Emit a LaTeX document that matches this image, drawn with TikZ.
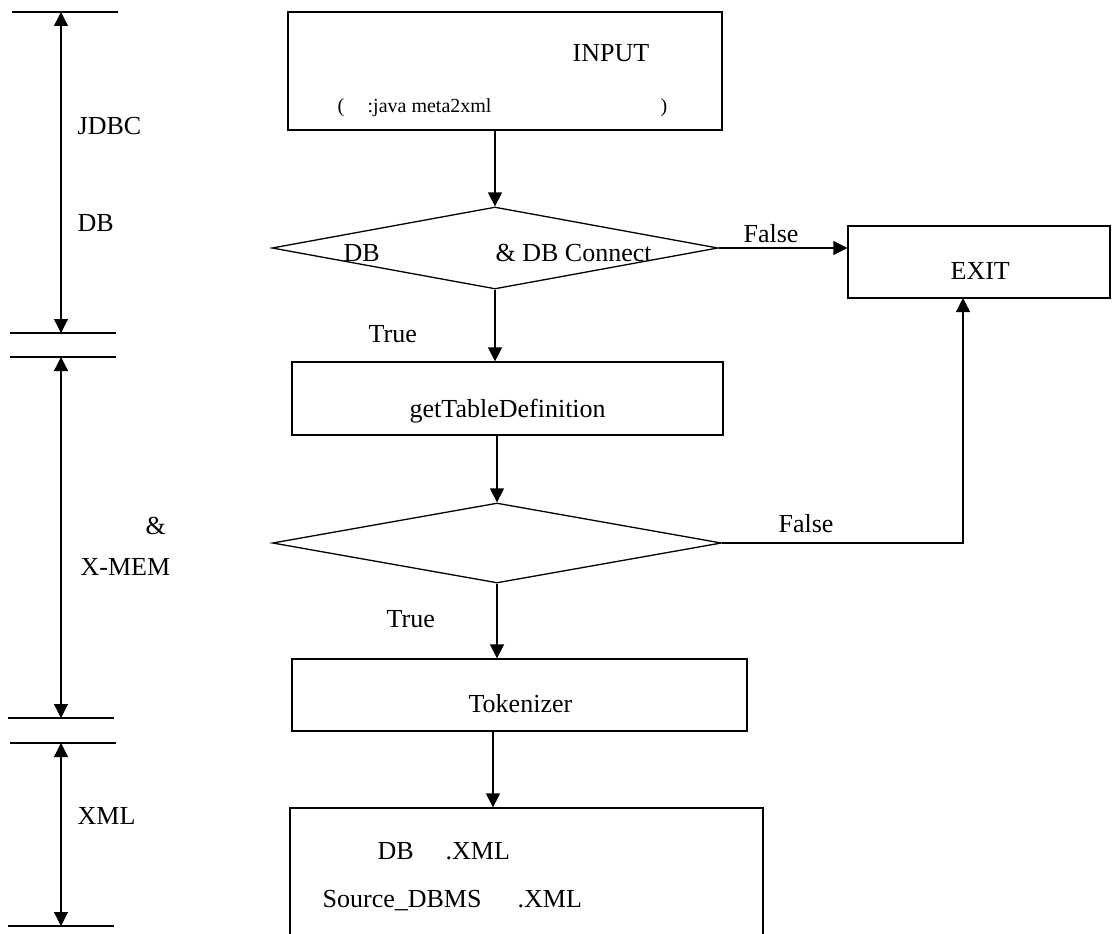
\documentclass[tikz,border=0pt]{standalone}
\usepackage{fontspec}
\setmainfont{Liberation Serif}
\usetikzlibrary{arrows.meta,shapes.geometric}
\begin{document}
\begin{tikzpicture}[x=1pt,y=-1pt,
  line width=1.3pt,
  >={Triangle[length=14pt,width=14pt]},
  lbl/.style={font=\fontsize{26}{30}\selectfont, inner sep=0pt, anchor=base west},
  small/.style={font=\fontsize{20}{24}\selectfont, inner sep=0pt, anchor=base west},
  box/.style={draw, rectangle, inner sep=0pt},
  decision/.style={draw, diamond, inner sep=0pt},
  tick/.style={line width=1.3pt}]
\useasboundingbox (0,0) rectangle (1112,934);
\clip (0,0) rectangle (1112,934);

% ---- flow boxes ----
\node[box, minimum width=434pt, minimum height=118pt] (input) at (505,71) {};
\node[decision, minimum width=446pt, minimum height=82pt, shape aspect=5.44] (dia1) at (495,248) {};
\node[box, minimum width=262pt, minimum height=72pt] (exit) at (979,262) {};
\node[box, minimum width=431pt, minimum height=73pt] (gtd) at (507.5,398.5) {};
\node[decision, minimum width=449pt, minimum height=80pt, shape aspect=5.61] (dia2) at (497,543) {};
\node[box, minimum width=455pt, minimum height=72pt] (tok) at (519.5,695) {};
\node[box, minimum width=473pt, minimum height=160pt] (out) at (526.5,888) {};
\coordinate (exitin) at (963,298);

% ---- texts inside the shapes (base west anchors) ----
\node[lbl] (tinput) at (572,62) {INPUT};
\node[small] (tparl) at (337,113) {(};
\node[small] (tcmd) at (367,113) {:java meta2xml};
\node[small] (tparr) at (660,113) {)};
\node[lbl] (td1a) at (343,261) {DB};
\node[lbl] (td1b) at (495,261) {\& DB Connect};
\node[lbl] (texit) at (950,279) {EXIT};
\node[lbl] (tgtd) at (409,417) {getTableDefinition};
\node[lbl] (ttok) at (468,712) {Tokenizer};
\node[lbl] (to1a) at (377,859) {DB};
\node[lbl] (to1b) at (445,859) {.XML};
\node[lbl] (to2a) at (322,907) {Source\_DBMS};
\node[lbl] (to2b) at (517,907) {.XML};

% ---- connectors ----
\draw[->] (input.south -| dia1.north) -- (dia1.north);
\draw[->] (dia1.east) -- (dia1.east -| exit.west);
\draw[->] (dia1.south) -- (dia1.south |- gtd.north);
\draw[->] (gtd.south -| dia2.north) -- (dia2.north);
\draw[->] (dia2.east) -| (exitin);
\draw[->] (dia2.south) -- (dia2.south |- tok.north);
\draw[->] (tok.south -| 493,0) -- (out.north -| 493,0);

\node[lbl] (f1) at (743,242) {False};
\node[lbl] (t1) at (368,342) {True};
\node[lbl] (f2) at (778,532) {False};
\node[lbl] (t2) at (386,627) {True};

% ---- stage brackets on the left ----
\draw[tick] (12,12) -- (118,12);
\draw[tick] (10,333) -- (116,333);
\draw[tick] (10,357) -- (116,357);
\draw[tick] (8,718) -- (114,718);
\draw[tick] (10,743) -- (116,743);
\draw[tick] (8,926) -- (114,926);
\coordinate (s1a) at (61,12);
\coordinate (s1b) at (61,333);
\coordinate (s2a) at (61,357);
\coordinate (s2b) at (61,718);
\coordinate (s3a) at (61,743);
\coordinate (s3b) at (61,926);
\draw[<->] (s1a) -- (s1b);
\draw[<->] (s2a) -- (s2b);
\draw[<->] (s3a) -- (s3b);

\node[lbl] (lj) at (77,134) {JDBC};
\node[lbl] (ld) at (77,231) {DB};
\node[lbl] (la) at (145,534) {\&};
\node[lbl] (lx) at (80,575) {X-MEM};
\node[lbl] (lm) at (77,824) {XML};
\end{tikzpicture}
\end{document}
